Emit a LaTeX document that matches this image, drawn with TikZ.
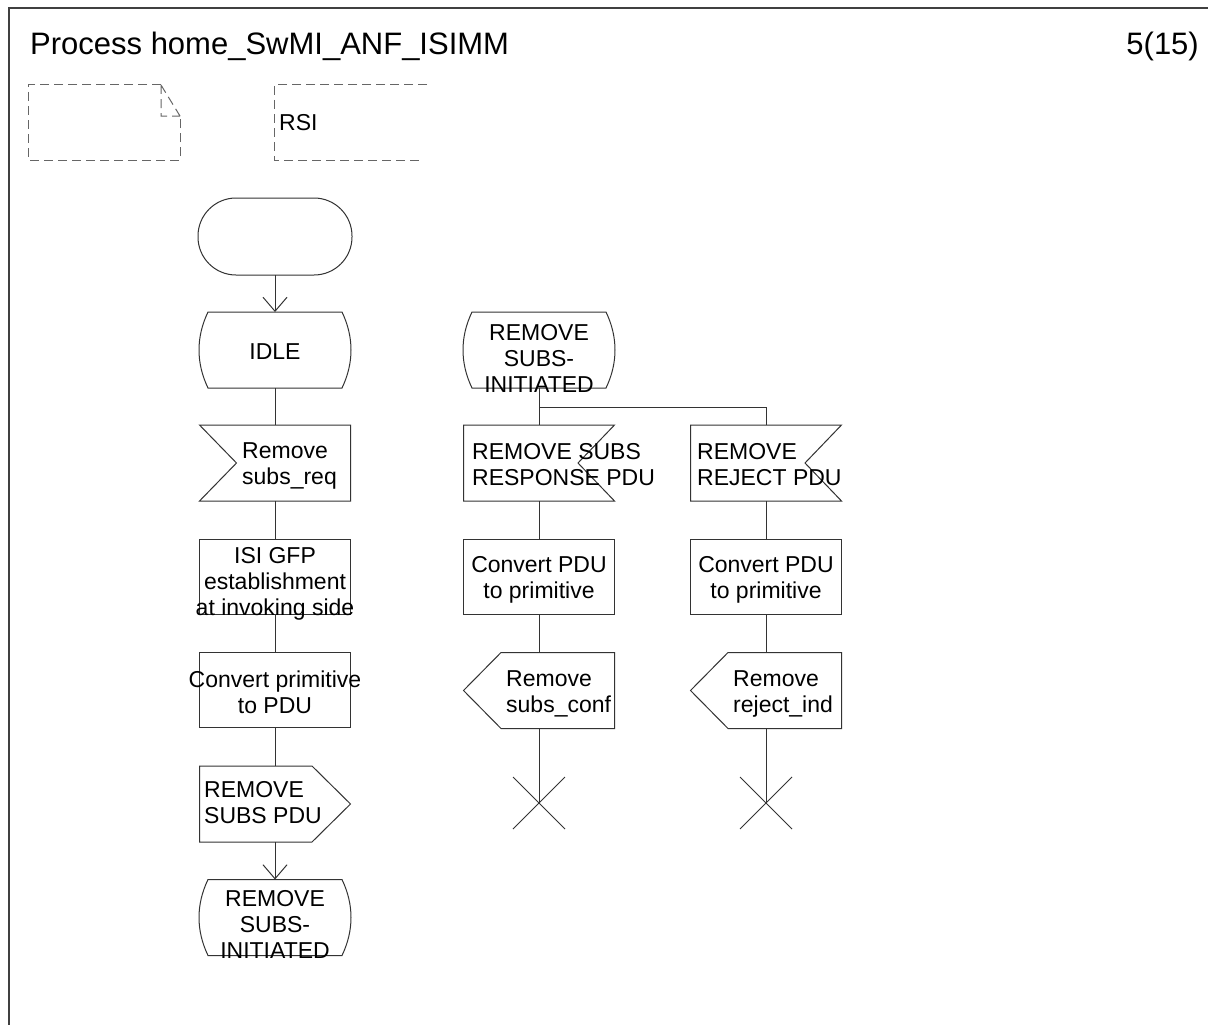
\documentclass[tikz,border=0pt]{standalone}
\usepackage{fontspec}
\setmainfont{Liberation Sans}
\usetikzlibrary{arrows.meta,shapes.misc,calc}
\begin{document}
\begin{tikzpicture}[x=1pt,y=-1pt,
  ln/.style={draw=black!80, line width=1pt},
  sym/.style={minimum width=151pt, minimum height=76pt, inner sep=0pt, outer sep=0pt},
  taskbox/.style={sym, minimum height=75pt, draw=black!80, line width=1pt},
  lbl/.style={inner sep=0pt, align=center, font={\fontsize{23}{26}\selectfont}},
  lbll/.style={lbl, align=left, anchor=west},
  arr/.style={ln, -{Straight Barb[length=14pt,width=24pt]}},
  stopx/.style={cross out, draw=black!80, line width=1pt, minimum size=52pt, inner sep=0pt, outer sep=0pt},
  dsh/.style={draw=black!60, line width=1pt, dash pattern=on 9pt off 5pt},
  hdr/.style={inner sep=0pt, font={\fontsize{31}{36}\selectfont}},
]
\useasboundingbox (0,0) rectangle (1208,1025);
\fill[white] (0,0) rectangle (1208,1025);
% frame
\draw[draw=black!75, line width=1.5pt] (1208,8) -- (9,8) -- (9,1025);
\node[hdr, anchor=base west] (title) at (30,55) {Process home\_SwMI\_ANF\_ISIMM};
\node[hdr, anchor=base east] (page) at (1199,55) {5(15)};

% dashed text symbols
\node[inner sep=0pt, minimum width=152pt, minimum height=75pt] (note) at (104,122.5) {};
\draw[dsh, shift={(note.center)}] (57,-37.5) -- (-76,-37.5) -- (-76,37.5) -- (76,37.5) -- (76,-6.5);
\draw[dsh, shift={(note.center)}] (57,-37.5) -- (76,-6.5) (57,-37.5) -- (57,-6.5) -- (76,-6.5);
\node[inner sep=0pt, minimum width=153pt, minimum height=75pt] (rsib) at (350.5,122.5) {};
\draw[dsh, shift={(rsib.center)}] (76.5,-37.5) -- (-76.5,-37.5) -- (-76.5,37.5) -- (69.5,37.5);
\node[lbll] (rsit) at (279,123) {RSI};

% ---------- left column ----------
\node[sym, draw=black!80, line width=1pt, rounded corners=38pt, minimum width=154pt, minimum height=77pt] (start) at (275,236.5) {};
\node[sym] (idle) at (275,350) {};
\draw[ln, shift={(idle.center)}] (-67,-38) -- (67,-38) .. controls (79,-13) and (79,13) .. (67,38) -- (-67,38) .. controls (-79,13) and (-79,-13) .. cycle;
\node[lbl] (idlet) at (275,352) {IDLE};

\node[sym] (in1) at (275,463) {};
\draw[ln, shift={(in1.center)}] (-75.5,-38) -- (75.5,-38) -- (75.5,38) -- (-75.5,38) -- (-38.5,0) -- cycle;
\node[lbll] (in1t) at (242,465.5) {Remove\\subs\_req};

\node[taskbox] (task1) at (275,576.5) {};
\node[lbl] (task1t) at (275,583.5) {ISI GFP\\establishment\\at invoking side};

\node[taskbox] (task2) at (275,690) {};
\node[lbl] (task2t) at (275,692) {Convert primitive\\to PDU};

\node[sym] (out1) at (275,804) {};
\draw[ln, shift={(out1.center)}] (-75.5,-38) -- (37,-38) -- (75.5,0) -- (37,38) -- (-75.5,38) -- cycle;
\node[lbll] (out1t) at (204,803) {REMOVE\\SUBS PDU};

\node[sym] (st1) at (275,917.5) {};
\draw[ln, shift={(st1.center)}] (-67,-38) -- (67,-38) .. controls (79,-13) and (79,13) .. (67,38) -- (-67,38) .. controls (-79,13) and (-79,-13) .. cycle;
\node[lbl] (st1t) at (275,924.5) {REMOVE\\SUBS-\\INITIATED};

\draw[arr] (start.south) -- (idle.north);
\draw[ln] (idle.south) -- (in1.north);
\draw[ln] (in1.south) -- (task1.north);
\draw[ln] (task1.south) -- (task2.north);
\draw[ln] (task2.south) -- (out1.north);
\draw[arr] (out1.south) -- (st1.north);

% ---------- middle column ----------
\node[sym] (st2) at (539,350) {};
\draw[ln, shift={(st2.center)}] (-67,-38) -- (67,-38) .. controls (79,-13) and (79,13) .. (67,38) -- (-67,38) .. controls (-79,13) and (-79,-13) .. cycle;
\node[lbl] (st2t) at (539,358.5) {REMOVE\\SUBS-\\INITIATED};

\node[sym] (in2) at (539,463) {};
\draw[ln, shift={(in2.center)}] (-75.5,-38) -- (75.5,-38) -- (39,0) -- (75.5,38) -- (-75.5,38) -- cycle;
\node[lbll] (in2t) at (472,464.5) {REMOVE SUBS\\RESPONSE PDU};

\node[taskbox] (task3) at (539,576.5) {};
\node[lbl] (task3t) at (539,579.5) {Convert PDU\\to primitive};

\node[sym] (out2) at (539,690.5) {};
\draw[ln, shift={(out2.center)}] (-75.5,0) -- (-38,-38) -- (75.5,-38) -- (75.5,38) -- (-38,38) -- cycle;
\node[lbll] (out2t) at (506,693.5) {Remove\\subs\_conf};

\node[stopx] (x2) at (539,803) {};

% ---------- right column ----------
\node[sym] (in3) at (766,463) {};
\draw[ln, shift={(in3.center)}] (-75.5,-38) -- (75.5,-38) -- (39,0) -- (75.5,38) -- (-75.5,38) -- cycle;
\node[lbll] (in3t) at (697,464.5) {REMOVE\\REJECT PDU};

\node[taskbox] (task4) at (766,576.5) {};
\node[lbl] (task4t) at (766,579.5) {Convert PDU\\to primitive};

\node[sym] (out3) at (766,690.5) {};
\draw[ln, shift={(out3.center)}] (-75.5,0) -- (-38,-38) -- (75.5,-38) -- (75.5,38) -- (-38,38) -- cycle;
\node[lbll] (out3t) at (733,694) {Remove\\reject\_ind};

\node[stopx] (x3) at (766,803) {};

% connectors middle/right
\coordinate (br) at (539,407);
\draw[ln] (st2.south) -- (in2.north);
\draw[ln] (br) -| (in3.north);
\draw[ln] (in2.south) -- (task3.north);
\draw[ln] (task3.south) -- (out2.north);
\draw[ln] (out2.south) -- (x2.center);
\draw[ln] (in3.south) -- (task4.north);
\draw[ln] (task4.south) -- (out3.north);
\draw[ln] (out3.south) -- (x3.center);
\end{tikzpicture}
\end{document}
